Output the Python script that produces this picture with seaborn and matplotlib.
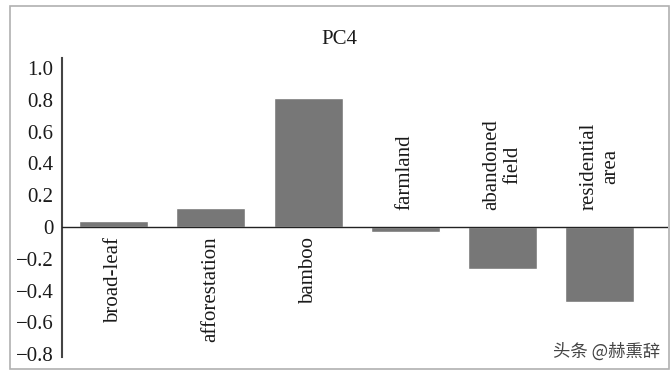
import pandas as pd
import matplotlib
matplotlib.use("Agg")
import matplotlib.pyplot as plt
import seaborn as sns
from matplotlib.patches import Rectangle

# Data
categories = ["broad-leaf", "afforestation", "bamboo", "farmland",
              "abandoned\nfield", "residential\narea"]
loadings = [0.04, 0.12, 0.81, -0.03, -0.265, -0.47]
yticks = [-0.8, -0.6, -0.4, -0.2, 0, 0.2, 0.4, 0.6, 0.8, 1.0]
ytick_labels = ["\u22120.8", "\u22120.6", "\u22120.4", "\u22120.2", "0",
                "0.2", "0.4", "0.6", "0.8", "1.0"]

df = pd.DataFrame({"category": categories, "loading": loadings})

sns.set_theme(style="white")
serif = ["Liberation Serif", "DejaVu Serif"]
plt.rcParams["font.family"] = serif
fs = 15

fig = plt.figure(figsize=(6.72, 3.72), dpi=100)
ax = fig.add_axes([62 / 672, 1 - 357 / 372, (668 - 62) / 672, (357 - 58) / 372])

sns.barplot(data=df, x="category", y="loading", color="#777777",
            saturation=1, width=0.71, ax=ax)

ax.set_xlim(-0.53, 5.70)
ax.set_ylim(-0.818, 1.063)
ax.set_yticks(yticks)
ax.set_yticklabels(ytick_labels, fontsize=fs, color="#1a1a1a", family=serif)
ax.tick_params(axis="y", length=0, pad=6)
ax.set_xticks([])
ax.set_xlabel("")
ax.set_ylabel("")

for side in ["top", "right", "bottom"]:
    ax.spines[side].set_visible(False)
ax.spines["left"].set_color("#444444")
ax.spines["left"].set_linewidth(1.5)
ax.axhline(0, color="#222222", linewidth=1.0, zorder=3)

# category labels on the opposite side of each bar
for i, (name, val) in enumerate(zip(categories, loadings)):
    if val >= 0:
        ax.text(i, -0.06, name, rotation=90, ha="center", va="top",
                multialignment="center", fontsize=fs, color="#1a1a1a",
                family=serif, linespacing=1.15)
    else:
        ax.text(i, 0.105, name, rotation=90, ha="center", va="bottom",
                multialignment="center", fontsize=fs, color="#1a1a1a",
                family=serif, linespacing=1.15)

fig.text(339 / 672, 1 - 40 / 372, "PC4", ha="center", va="center",
         fontsize=fs, color="#1a1a1a", family=serif)

# outer frame and watermark
fig.patches.append(Rectangle((10 / 672, 1 - 369 / 372), 659 / 672, 363 / 372,
                             transform=fig.transFigure, fill=False,
                             edgecolor="#b0b0b0", linewidth=1.2))
fig.text(660 / 672, 1 - 352 / 372, "头条 @赫熏辞", ha="right", va="center",
         fontsize=12.5, color="#444444",
         family=["Noto Sans CJK SC", "DejaVu Sans"])

fig.savefig("out.png", dpi=100)
